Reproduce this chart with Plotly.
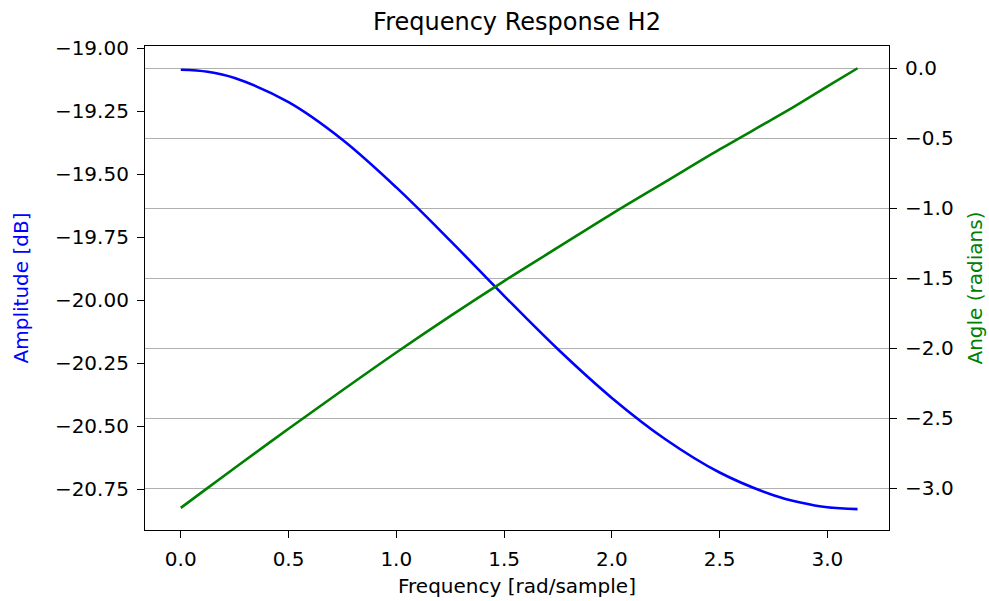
import plotly.graph_objects as go

# Frequency grid (rad/sample) and the response of H2 sampled on it
freq = [0.0, 0.125, 0.25, 0.5, 0.75, 1.0, 1.25, 1.5, 1.75, 2.0, 2.25, 2.5,
        2.75, 2.875, 3.0, 3.14]
amplitude_db = [-19.085, -19.093, -19.118, -19.214, -19.363, -19.552, -19.763,
                -19.982, -20.194, -20.387, -20.552, -20.683, -20.773, -20.802,
                -20.821, -20.828]
angle_rad = [-3.14, -2.997, -2.855, -2.575, -2.30, -2.03, -1.77, -1.52,
             -1.28, -1.04, -0.81, -0.58, -0.36, -0.247, -0.13, 0.0]

x_ticks = [0.0, 0.5, 1.0, 1.5, 2.0, 2.5, 3.0]
amp_ticks = [-19.00, -19.25, -19.50, -19.75, -20.00, -20.25, -20.50, -20.75]
ang_ticks = [0.0, -0.5, -1.0, -1.5, -2.0, -2.5, -3.0]

FONT = "DejaVu Sans"
BLUE = "#0000ff"
GREEN = "#008000"

fig = go.Figure()
fig.add_trace(go.Scatter(x=freq, y=amplitude_db, mode="lines",
                         line=dict(color=BLUE, width=2.6, shape="spline"),
                         yaxis="y", showlegend=False))
fig.add_trace(go.Scatter(x=freq, y=angle_rad, mode="lines",
                         line=dict(color=GREEN, width=2.6, shape="spline"),
                         yaxis="y2", showlegend=False))

axis_common = dict(showline=True, linecolor="black", linewidth=1.2,
                   ticks="outside", ticklen=7, tickwidth=1.2, tickcolor="black",
                   tickfont=dict(family=FONT, size=20, color="black"),
                   zeroline=False, ticklabelstandoff=4, automargin=False)

fig.update_layout(
    width=989, height=601,
    margin=dict(l=145, r=100, t=46, b=71),
    paper_bgcolor="white", plot_bgcolor="white",
    font=dict(family=FONT, color="black"),
    title=dict(text="Frequency Response H2", x=0.5, xref="paper",
               y=1 - 22 / 601, yref="container", yanchor="middle",
               font=dict(family=FONT, size=24, color="black")),
    xaxis=dict(range=[-0.166, 3.286], tickvals=x_ticks,
               ticktext=[f"{v:.1f}" for v in x_ticks],
               showgrid=False, mirror=True,
               title=dict(text="Frequency [rad/sample]", standoff=8,
                          font=dict(family=FONT, size=20, color="black")),
               **axis_common),
    yaxis=dict(range=[-20.911, -18.991], tickvals=amp_ticks,
               ticktext=[f"{v:.2f}".replace("-", "\u2212") for v in amp_ticks],
               showgrid=False,
               title=dict(text="Amplitude [dB]", standoff=20,
                          font=dict(family=FONT, size=20, color=BLUE)),
               **axis_common),
    yaxis2=dict(range=[-3.298, 0.159], tickvals=ang_ticks,
                ticktext=[f"{v:.1f}".replace("-", "\u2212") for v in ang_ticks],
                overlaying="y", side="right",
                showgrid=True, gridcolor="#b0b0b0", gridwidth=1.1,
                title=dict(text="Angle (radians)", standoff=15,
                           font=dict(family=FONT, size=20, color=GREEN)),
                **axis_common),
)

fig.write_html("out.html")
